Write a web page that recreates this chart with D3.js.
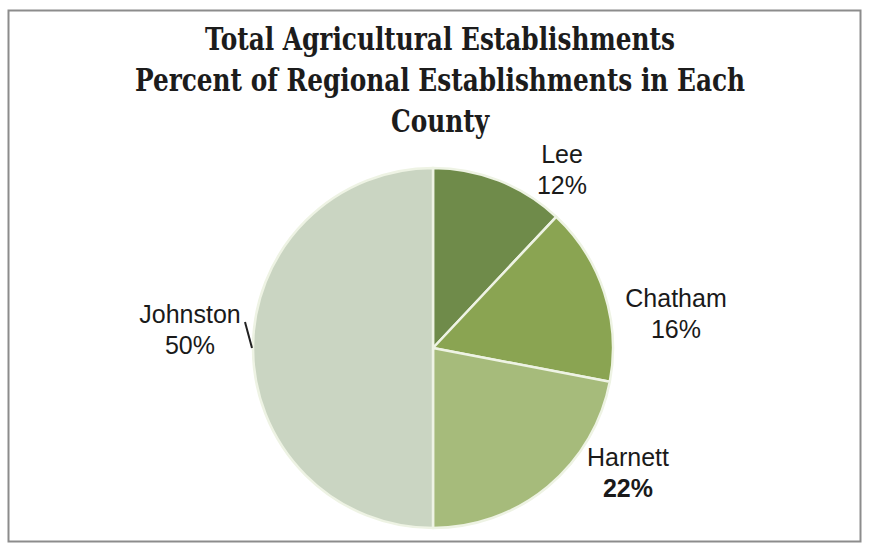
<!DOCTYPE html>
<html>
<head>
<meta charset="utf-8">
<script src="https://cdn.jsdelivr.net/npm/d3@7/dist/d3.min.js"></script>
<style>
  html, body { margin: 0; padding: 0; background: #fff; }
  svg { display: block; }
</style>
</head>
<body>
<svg id="chart" width="871" height="548"></svg>
<script>
// County shares of regional agricultural establishments
const counties = ["Lee", "Chatham", "Harnett", "Johnston"];
const percents = [12, 16, 22, 50];
const colors = ["#6f8b4a", "#8aa452", "#a6bb7b", "#cad5c2"];
const titleLines = [
  "Total Agricultural Establishments",
  "Percent of Regional Establishments in Each",
  "County"
];

const svg = d3.select("#chart");

// Frame
svg.append("rect")
  .attr("x", 8.5).attr("y", 10.5)
  .attr("width", 852).attr("height", 531)
  .attr("fill", "#fff")
  .attr("stroke", "#8c8c8c")
  .attr("stroke-width", 2);

// Title: a heavy serif narrowed horizontally to look condensed
const titleX = 440, squeeze = 0.8;
const title = svg.append("g")
  .attr("transform", `translate(${titleX},0) scale(${squeeze},1)`)
  .attr("font-family", "'DejaVu Serif', serif")
  .attr("font-weight", "bold")
  .attr("font-size", 31)
  .attr("fill", "#1c1c1c")
  .attr("text-anchor", "middle");
titleLines.forEach((t, i) => {
  title.append("text")
    .attr("x", 0)
    .attr("y", 50 + i * 41)
    .text(t);
});

// Pie
const cx = 433, cy = 348, R = 180;
const data = counties.map((c, i) => ({ name: c, value: percents[i], color: colors[i] }));
const pie = d3.pie().sort(null).value(d => d.value);
const arc = d3.arc().innerRadius(0).outerRadius(R);
const arcs = pie(data);

const g = svg.append("g").attr("transform", `translate(${cx},${cy})`);
g.selectAll("path")
  .data(arcs)
  .join("path")
  .attr("d", arc)
  .attr("fill", d => d.data.color)
  .attr("stroke", "#eef3e4")
  .attr("stroke-width", 2.5)
  .attr("stroke-linejoin", "round");

// Labels placed outside each slice
const labelPos = {
  "Lee": [562, 163],
  "Chatham": [676, 307],
  "Harnett": [628, 466],
  "Johnston": [190, 323]
};
const labels = svg.append("g")
  .attr("font-family", "'Liberation Sans', Arial, sans-serif")
  .attr("font-size", 25)
  .attr("fill", "#1a1a1a")
  .attr("text-anchor", "middle");
arcs.forEach(a => {
  const [x, y] = labelPos[a.data.name];
  const t = labels.append("text");
  t.append("tspan").attr("x", x).attr("y", y).text(a.data.name);
  t.append("tspan").attr("x", x).attr("y", y + 31)
    .attr("font-weight", a.data.name === "Harnett" ? "bold" : null)
    .text(d3.format(".0%")(a.data.value / 100));
});

// Leader line for the Johnston label
svg.append("line")
  .attr("x1", 245).attr("y1", 322)
  .attr("x2", 252).attr("y2", 348)
  .attr("stroke", "#222")
  .attr("stroke-width", 2);
</script>
</body>
</html>
